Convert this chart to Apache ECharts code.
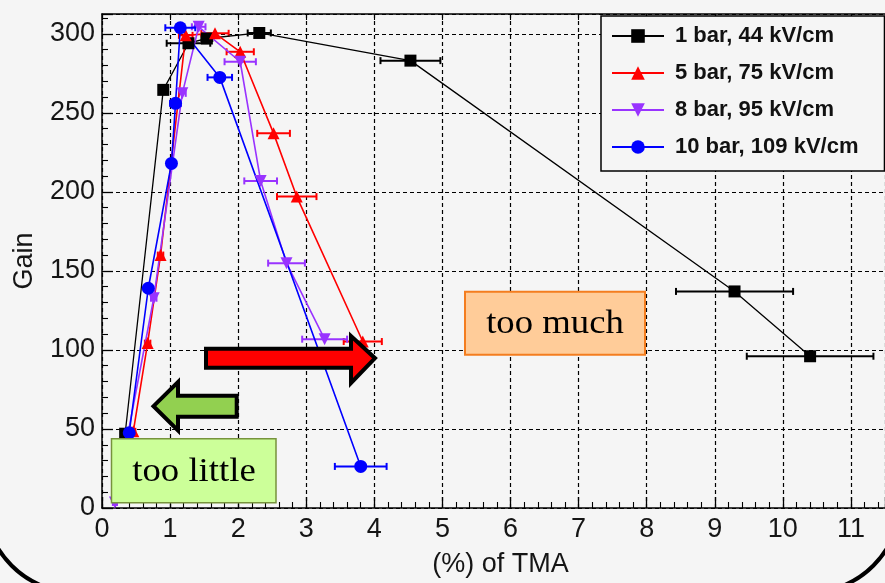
<!DOCTYPE html>
<html>
<head>
<meta charset="utf-8">
<script src="https://cdn.jsdelivr.net/npm/echarts@6/dist/echarts.min.js"></script>
<style>
  html, body { margin: 0; padding: 0; background: #f5f5f5; }
  #chart { width: 885px; height: 583px; }
</style>
</head>
<body>
<div id="chart"></div>
<script>
// Gain versus TMA admixture for four pressure / drift-field settings.
// Each series: TMA fraction (%), gain, and half-width of the horizontal error bar.
const seriesNames = ['1 bar, 44 kV/cm', '5 bar, 75 kV/cm', '8 bar, 95 kV/cm', '10 bar, 109 kV/cm'];

const oneBarTMA  = [0.34, 0.90, 1.27, 1.54, 2.31, 4.53, 9.29, 10.40];
const oneBarGain = [47, 264.5, 294, 297, 300.5, 283, 137, 96];
const oneBarErr  = [0.03, 0.05, 0.32, 0.08, 0.17, 0.44, 0.86, 0.93];

const fiveBarTMA  = [0.46, 0.67, 0.86, 1.23, 1.66, 2.03, 2.52, 2.86, 3.83];
const fiveBarGain = [48.5, 104.3, 160, 299, 300.3, 288.6, 237, 197, 105.3];
const fiveBarErr  = [0.03, 0.04, 0.04, 0.10, 0.20, 0.20, 0.24, 0.29, 0.28];

const eightBarTMA  = [0.19, 0.76, 1.18, 1.42, 2.03, 2.33, 2.71, 3.27];
const eightBarGain = [3.5, 132.7, 262.3, 304.4, 282.3, 206.9, 154.9, 106.8];
const eightBarErr  = [0.03, 0.04, 0.05, 0.10, 0.23, 0.24, 0.27, 0.33];

const tenBarTMA  = [0.40, 0.68, 1.02, 1.08, 1.15, 1.73, 3.80];
const tenBarGain = [47.6, 139, 218, 256, 303.8, 272.4, 26.3];
const tenBarErr  = [0.04, 0.05, 0.05, 0.08, 0.22, 0.18, 0.38];

// Axis ranges
const xMin = 0, xMax = 11.5, xStep = 1;
const yMin = 0, yMax = 312.5, yStep = 50;

const colors  = ['#000000', '#ff0000', '#9933ff', '#0000ff'];
const symbols = ['rect', 'triangle', 'triangle', 'circle'];
const symbolRotations = [0, 0, 180, 0];
const symbolSizes = [12, 12, 12, 13];

const groups = [
  [oneBarTMA, oneBarGain, oneBarErr],
  [fiveBarTMA, fiveBarGain, fiveBarErr],
  [eightBarTMA, eightBarGain, eightBarErr],
  [tenBarTMA, tenBarGain, tenBarErr]
];

function pairs(xs, ys) { return xs.map((x, i) => [x, ys[i]]); }
function triples(xs, ys, es) { return xs.map((x, i) => [x, ys[i], es[i]]); }

// Horizontal error bar with short end caps
function errorBarRenderer(color) {
  return function (params, api) {
    const x = api.value(0), y = api.value(1), e = api.value(2);
    const p1 = api.coord([x - e, y]);
    const p2 = api.coord([x + e, y]);
    const cap = 3.5;
    const st = { stroke: color, lineWidth: 2 };
    return {
      type: 'group',
      children: [
        { type: 'line', shape: { x1: p1[0], y1: p1[1], x2: p2[0], y2: p2[1] }, style: st },
        { type: 'line', shape: { x1: p1[0], y1: p1[1] - cap, x2: p1[0], y2: p1[1] + cap }, style: st },
        { type: 'line', shape: { x1: p2[0], y1: p2[1] - cap, x2: p2[0], y2: p2[1] + cap }, style: st }
      ]
    };
  };
}

const series = [];
groups.forEach((g, i) => {
  series.push({
    type: 'custom',
    name: seriesNames[i] + ' err',
    renderItem: errorBarRenderer(colors[i]),
    data: triples(g[0], g[1], g[2]),
    encode: { x: 0, y: 1 },
    z: 3,
    silent: true
  });
});
groups.forEach((g, i) => {
  series.push({
    type: 'line',
    name: seriesNames[i],
    data: pairs(g[0], g[1]),
    symbol: symbols[i],
    symbolSize: symbolSizes[i],
    symbolRotate: symbolRotations[i],
    showAllSymbol: true,
    color: colors[i],
    lineStyle: { color: colors[i], width: i === 0 ? 1.3 : 1.6 },
    itemStyle: { color: colors[i] },
    z: 4,
    animation: false
  });
});

const axisFont = { fontFamily: 'Liberation Sans', fontSize: 27, color: '#151515' };
const gridDash = { color: '#000', width: 1.2, type: [4, 3] };

const option = {
  backgroundColor: '#f5f5f5',
  animation: false,
  grid: { left: 102, right: -5, top: 14, bottom: 74.7, containLabel: false },
  legend: {
    data: seriesNames,
    orient: 'vertical',
    left: 601, top: 16,
    padding: [8, 26, 12, 10],
    itemWidth: 52, itemHeight: 17, itemGap: 13,
    backgroundColor: '#f5f5f5',
    borderColor: '#000', borderWidth: 1.5, borderRadius: 0,
    textStyle: { fontFamily: 'Liberation Sans', fontWeight: 'bold', fontSize: 22,
                 color: '#111', lineHeight: 24, padding: [0, 0, 0, 6] },
    selectedMode: false
  },
  xAxis: [
    {
      type: 'value', min: xMin, max: xMax, interval: xStep,
      name: '(%) of TMA', nameLocation: 'middle', nameGap: 43,
      nameTextStyle: Object.assign({}, axisFont, { padding: [0, 0, 0, 14] }),
      axisLine: { show: true, onZero: false, lineStyle: { color: '#000', width: 1.5 } },
      axisTick: { show: true, inside: true, length: 11, lineStyle: { color: '#000', width: 1.3 } },
      minorTick: { show: true, splitNumber: 5, length: 6, lineStyle: { color: '#000', width: 1.1 } },
      axisLabel: Object.assign({ margin: 8 }, axisFont),
      splitLine: { show: true, lineStyle: gridDash }
    },
    {
      type: 'value', position: 'top', min: xMin, max: xMax, interval: xStep,
      axisLine: { show: true, onZero: false, lineStyle: { color: '#000', width: 1.5 } },
      axisTick: { show: true, inside: true, length: 6, lineStyle: { color: '#000', width: 1.1 } },
      axisLabel: { show: false },
      splitLine: { show: false }
    }
  ],
  yAxis: [
    {
      type: 'value', min: yMin, max: yMax, interval: yStep,
      name: 'Gain', nameLocation: 'middle', nameGap: 64,
      nameTextStyle: axisFont,
      axisLine: { show: true, onZero: false, lineStyle: { color: '#000', width: 1.5 } },
      axisTick: { show: true, inside: true, length: 11, lineStyle: { color: '#000', width: 1.3 } },
      minorTick: { show: true, splitNumber: 5, length: 6, lineStyle: { color: '#000', width: 1.1 } },
      axisLabel: Object.assign({ margin: 7 }, axisFont),
      splitLine: { show: true, lineStyle: gridDash }
    }
  ],
  series: series,
  graphic: [
    // rounded slide frame, only its lower corners fall inside the canvas
    {
      type: 'rect', z: 200, silent: true,
      shape: { x: -16, y: -300, width: 917, height: 893, r: 94 },
      style: { fill: 'none', stroke: '#000', lineWidth: 4 }
    },
    // right-pointing red arrow
    {
      type: 'polygon', z: 150, silent: true,
      shape: { points: [[206, 348.7], [351, 348.7], [351, 336], [375, 358.2], [351, 383], [351, 367.7], [206, 367.7]] },
      style: { fill: '#ff0000', stroke: '#000', lineWidth: 4, lineJoin: 'miter' }
    },
    // left-pointing green arrow
    {
      type: 'polygon', z: 150, silent: true,
      shape: { points: [[236.7, 395.7], [178, 395.7], [178, 382], [153.5, 406.2], [178, 430.5], [178, 416.7], [236.7, 416.7]] },
      style: { fill: '#92d050', stroke: '#000', lineWidth: 4, lineJoin: 'miter' }
    },
    // "too little" label box
    {
      type: 'rect', z: 150, silent: true,
      shape: { x: 111.5, y: 438.8, width: 164.5, height: 64 },
      style: { fill: '#ccff99', stroke: '#77933c', lineWidth: 1.5 }
    },
    {
      type: 'text', z: 151, silent: true,
      x: 194, y: 472, scaleX: 1.08, originX: 0, originY: 0,
      style: { text: 'too little', fontFamily: 'Liberation Serif', fontSize: 34, fill: '#000',
               align: 'center', verticalAlign: 'middle' }
    },
    // "too much" label box
    {
      type: 'rect', z: 150, silent: true,
      shape: { x: 465, y: 291.8, width: 180, height: 63 },
      style: { fill: '#ffcc99', stroke: '#f47d1f', lineWidth: 2 }
    },
    {
      type: 'text', z: 151, silent: true,
      x: 555, y: 324, scaleX: 1.08, originX: 0, originY: 0,
      style: { text: 'too much', fontFamily: 'Liberation Serif', fontSize: 34, fill: '#000',
               align: 'center', verticalAlign: 'middle' }
    }
  ]
};

const chart = echarts.init(document.getElementById('chart'), null, { renderer: 'canvas' });
chart.setOption(option);
</script>
</body>
</html>
